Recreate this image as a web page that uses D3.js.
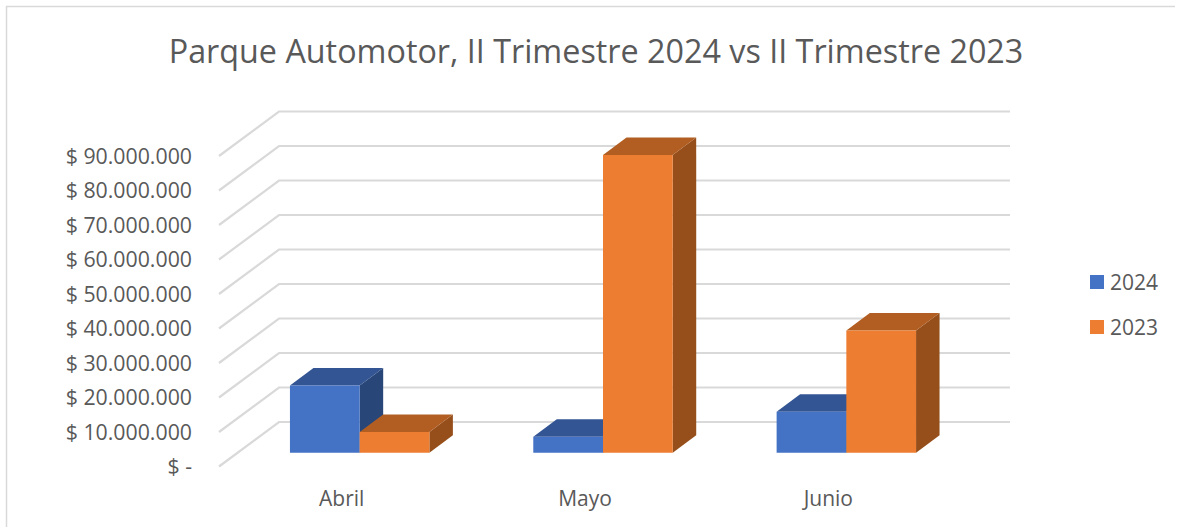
<!DOCTYPE html>
<html><head><meta charset="utf-8">
<script src="https://cdn.jsdelivr.net/npm/d3@7/dist/d3.min.js"></script>
<style>html,body{margin:0;padding:0;background:#fff}svg{display:block}text{font-family:"Open Sans",sans-serif;fill:#595959}</style>
</head><body><svg id="c" width="1180" height="527"></svg>
<script>
const title = "Parque Automotor, II Trimestre 2024 vs II Trimestre 2023";
const categories = ["Abril","Mayo","Junio"];
const seriesNames = ["2024","2023"];
const values2024 = [19500000,4600000,11900000];
const values2023 = [6000000,86300000,35400000];
const tickValues = [0,10000000,20000000,30000000,40000000,50000000,60000000,70000000,80000000,90000000];
const tickLabels = ["$ -","$ 10.000.000","$ 20.000.000","$ 30.000.000","$ 40.000.000","$ 50.000.000","$ 60.000.000","$ 70.000.000","$ 80.000.000","$ 90.000.000"];
const colors = {"2024":{front:"#4472c4",top:"#335593",side:"#284677"},"2023":{front:"#ed7d31",top:"#b25e22",side:"#964f1b"}};

const svg = d3.select("#c");
svg.append("path").attr("d","M6.5,527V6.5H1175").attr("fill","none").attr("stroke","#d9d9d9").attr("stroke-width",1.5);
svg.append("text").attr("x",596).attr("y",63).attr("text-anchor","middle").attr("font-size",32.3).text(title);

const y = d3.scaleLinear().domain([0,90000000]).range([466,155.5]);
const wall = {dx:60,dy:-44,right:1010};
const grid = svg.append("g").attr("fill","none").attr("stroke","#d9d9d9").attr("stroke-width",2.2);
tickValues.forEach(v=>{
  const p = d3.path();
  p.moveTo(219,y(v)+0.5); p.lineTo(219+wall.dx,y(v)+wall.dy); p.lineTo(wall.right,y(v)+wall.dy);
  grid.append("path").attr("d",p.toString());
});
tickValues.forEach((v,i)=>{
  svg.append("text").attr("x",192).attr("y",y(v)+8.3).attr("text-anchor","end").attr("font-size",21.3).text(tickLabels[i]);
});

const x0 = d3.scaleBand().domain(categories).range([238,968]).paddingInner(0.427).paddingOuter(0.2135);
const x1 = d3.scaleBand().domain(seriesNames).range([0,x0.bandwidth()]);
const floorLift = 13.3, bdx = 23.5, bdy = -17.5;
const seriesData = {"2024":values2024,"2023":values2023};
const poly = (g,pts,fill)=>g.append("polygon").attr("points",pts.map(p=>p.join(",")).join(" ")).attr("fill",fill);
categories.forEach((c,i)=>{
  seriesNames.forEach(s=>{
    const g = svg.append("g");
    const l = x0(c)+x1(s), r = l+x1.bandwidth();
    const t = y(seriesData[s][i])-floorLift, b = y(0)-floorLift, k = colors[s];
    poly(g,[[r,t],[r+bdx,t+bdy],[r+bdx,b+bdy],[r,b]],k.side);
    poly(g,[[l,t],[l+bdx,t+bdy],[r+bdx,t+bdy],[r,t]],k.top);
    poly(g,[[l,t],[r,t],[r,b],[l,b]],k.front);
  });
  svg.append("text").attr("x",x0(c)+x0.bandwidth()/2-18).attr("y",505.5).attr("text-anchor","middle").attr("font-size",21).text(c);
});

const legY = d3.scalePoint().domain(seriesNames).range([282,327]);
seriesNames.forEach(s=>{
  svg.append("rect").attr("x",1090).attr("y",legY(s)-7).attr("width",14).attr("height",14).attr("fill",colors[s].front);
  svg.append("text").attr("x",1110).attr("y",legY(s)+7.5).attr("font-size",21).text(s);
});
</script></body></html>
